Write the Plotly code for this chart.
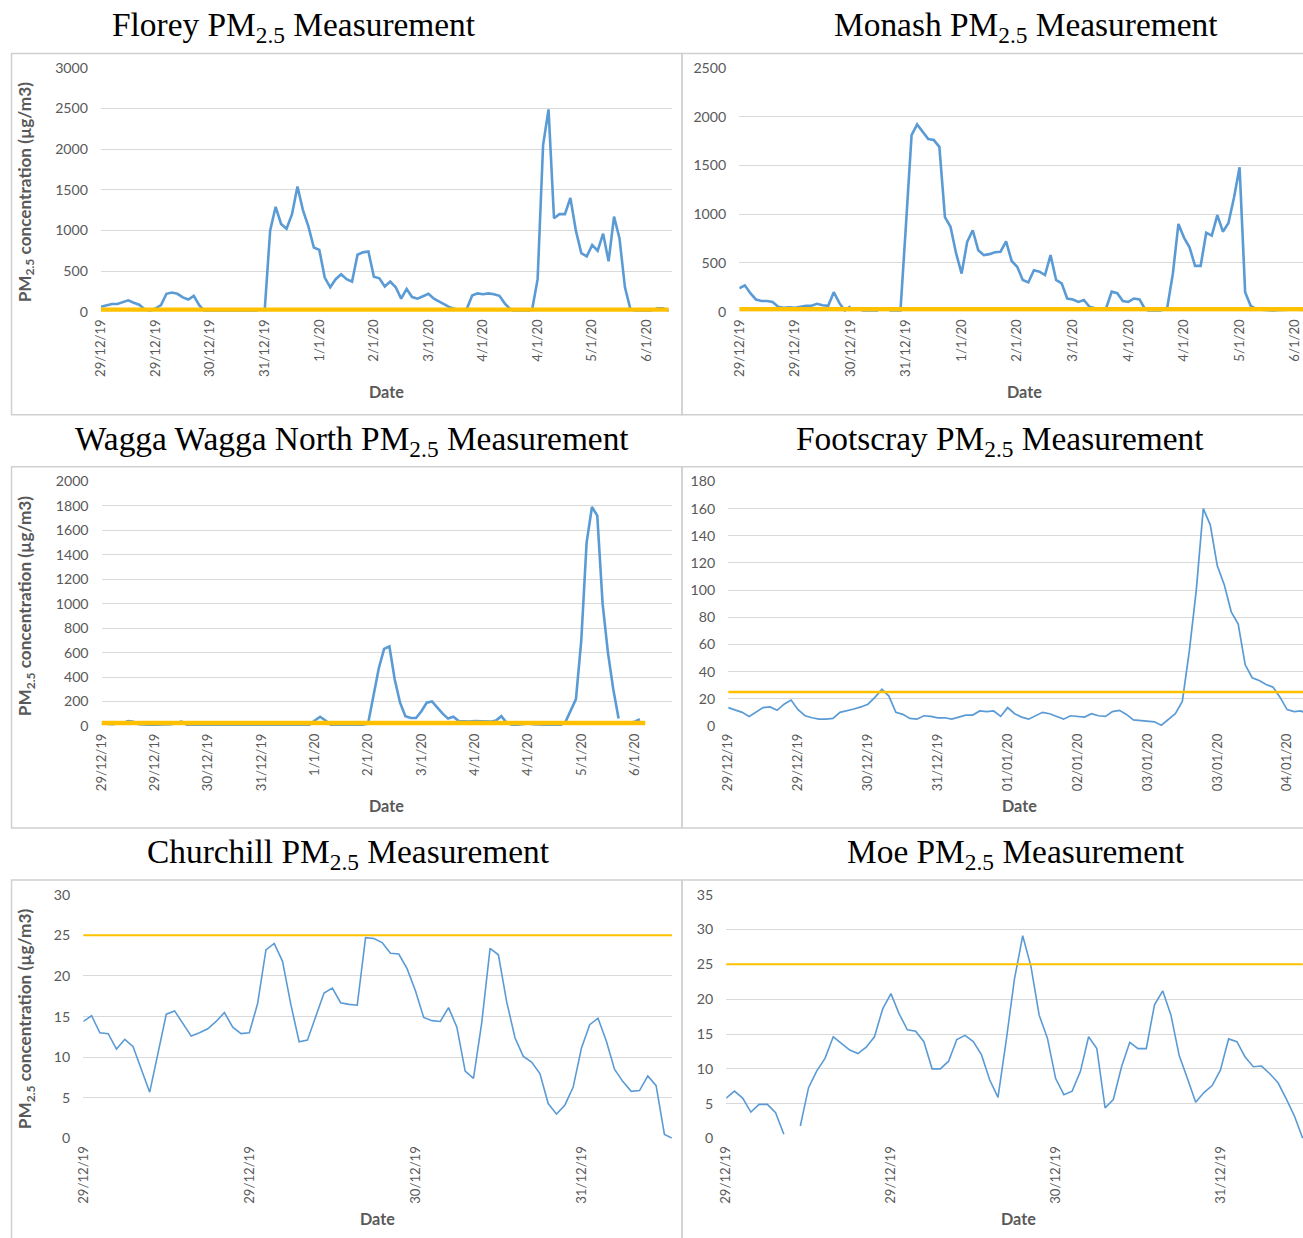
import plotly.graph_objects as go

W, H = 1303, 1238
THRESHOLD = 25  # PM2.5 guideline shown as orange line

# ---------------- data ----------------
florey_ticks = ["29/12/19", "29/12/19", "30/12/19", "31/12/19", "1/1/20", "2/1/20",
                "3/1/20", "4/1/20", "4/1/20", "5/1/20", "6/1/20"]
florey_pm = [60, 80, 95, 95, 120, 140, 110, 85, 30, 10,
             40, 80, 220, 235, 220, 175, 150, 195, 80, 5,
             0, 0, 5, 10, 5, 10, 5, 0, 0, 30,
             20, 1000, 1290, 1080, 1020, 1200, 1540, 1250, 1050, 790,
             760, 420, 300, 400, 460, 400, 370, 700, 730, 740,
             430, 410, 310, 370, 300, 160, 280, 180, 160, 190,
             220, 160, 120, 85, 50, 30, 30, 30, 200, 225,
             215, 225, 215, 195, 100, 30, 0, 0, 0, 30,
             400, 2050, 2490, 1150, 1200, 1200, 1400, 1000, 720, 680,
             820, 750, 960, 620, 1170, 900, 300, 30, 10, 0,
             5, 20, 40, 40, 10]

monash_ticks = florey_ticks
monash_pm = [240, 270, 190, 125, 110, 110, 100, 50, 40, 45,
             40, 50, 60, 60, 80, 65, 60, 200, 90, 10,
             55, None, 3, 3, 5, 3, None, 3, 5, 10,
             900, 1810, 1920, 1840, 1770, 1760, 1690, 970, 870, 600,
             390, 715, 835, 630, 580, 590, 610, 615, 720, 520,
             460, 325, 300, 425, 410, 375, 580, 325, 290, 135,
             125, 100, 120, 50, 35, 30, 35, 205, 190, 110,
             100, 135, 125, 25, 0, 0, 15, 45, 390, 900,
             760, 660, 470, 470, 810, 780, 990, 820, 910, 1170,
             1480, 200, 60, 25, 20, 15, 10, 15, 20, 20,
             20, 20, 15]

wagga_ticks = ["29/12/19", "29/12/19", "30/12/19", "31/12/19", "1/1/20", "2/1/20",
               "3/1/20", "4/1/20", "4/1/20", "5/1/20", "6/1/20"]
wagga_pm = [20, 15, 15, 20, 25, 40, 35, 15, 10, 10,
            10, 10, 10, 15, 25, 35, 10, 5, 5, 5,
            5, 5, 5, 5, 10, 10, 5, 5, 5, 10,
            10, 5, 5, 5, 5, 5, 5, 5, 5, 10,
            45, 75, 45, 10, 5, 5, 5, 5, 5, 10,
            20, 250, 470, 630, 650, 380, 190, 80, 65, 65,
            120, 190, 200, 150, 100, 60, 75, 40, 35, 35,
            40, 40, 40, 35, 45, 80, 25, 10, 10, 15,
            20, 15, 10, 10, 10, 5, 5, 30, 120, 220,
            700, 1500, 1790, 1720, 1000, 600, 300, 60, None, 25,
            35, 55]

footscray_ticks = ["29/12/19", "29/12/19", "30/12/19", "31/12/19", "01/01/20",
                   "02/01/20", "03/01/20", "03/01/20", "04/01/20"]
footscray_pm = [13.5, 12, 10, 7, 10, 13.5, 14, 11.5, 16, 19,
                12, 7.5, 6, 5, 5, 5.5, 10, 11, 12.5, 14,
                16, 21, 27, 22, 10, 8.5, 5.5, 5, 7.5, 7,
                6, 6, 5, 6.5, 8, 8, 11, 10.5, 11, 7,
                13.5, 9, 6.5, 5, 7.5, 10, 9, 7, 5, 7.5,
                7, 6.5, 9, 7.5, 7, 10.5, 11.5, 8.5, 4.5, 4,
                3.5, 3, 0.5, 5, 9, 18, 55, 100, 160, 148,
                118, 104, 84, 75, 45, 35.5, 33.5, 30.5, 28.5, 21,
                12, 10.5, 11, 8]

churchill_ticks = ["29/12/19", "29/12/19", "30/12/19", "31/12/19"]
churchill_pm = [14.4, 15.1, 13.0, 12.9, 11.0, 12.2, 11.3, 8.5, 5.7, 10.5,
                15.3, 15.7, 14.1, 12.6, 13.0, 13.5, 14.4, 15.5, 13.7, 12.9,
                13.0, 16.6, 23.2, 24.0, 21.8, 16.5, 11.9, 12.1, 15.0, 17.9,
                18.5, 16.7, 16.5, 16.4, 24.7, 24.6, 24.1, 22.8, 22.7, 20.9,
                18.2, 14.9, 14.5, 14.4, 16.1, 13.7, 8.3, 7.4, 14.3, 23.4,
                22.6, 16.8, 12.4, 10.1, 9.4, 8.0, 4.3, 3.0, 4.1, 6.3,
                11.1, 14.0, 14.8, 12.0, 8.5, 7.0, 5.8, 5.9, 7.7, 6.5,
                0.5, 0]

moe_ticks = ["29/12/19", "29/12/19", "30/12/19", "31/12/19"]
moe_pm = [5.8, 6.8, 5.8, 3.8, 4.9, 4.9, 3.7, 0.6, None, 1.8,
          7.3, 9.7, 11.5, 14.6, 13.7, 12.7, 12.2, 13.1, 14.6, 18.6,
          20.8, 17.9, 15.6, 15.4, 13.9, 10.0, 10.0, 11.1, 14.2, 14.8,
          13.9, 12.0, 8.4, 5.9, 14.1, 22.9, 29.1, 24.7, 17.7, 14.4,
          8.6, 6.3, 6.8, 9.6, 14.6, 12.9, 4.4, 5.6, 10.3, 13.8,
          12.9, 12.9, 19.2, 21.2, 17.7, 11.9, 8.6, 5.2, 6.6, 7.6,
          9.8, 14.3, 13.9, 11.7, 10.3, 10.4, 9.3, 8.0, 5.7, 3.2,
          0]

# ---------------- styling / geometry ----------------
BLUE = "#5B9BD5"
GOLD = "#FFC000"
GRID = "#D9D9D9"
TXT = "#595959"

# the captured picture shows the page slightly inset and shrunk; compensate
S_FIT, OFF = 0.988, 8.5


def fx(x):
    return (x - OFF) / S_FIT


def fy(y):
    return (y - OFF) / S_FIT


def fs(size):
    return size / S_FIT


panels = [
    dict(title="Florey", y=florey_pm, ticks=florey_ticks, step=10, ymax=3000, dtick=500,
         px=(100, 668), py=(67.5, 311.7), xmax=104.6, thr_len=len(florey_pm),
         lw=2.6, tw=4.5, box=(11, 678, 53, 415), tcx=292, tcy=27, ytitle=True),
    dict(title="Monash", y=monash_pm, ticks=monash_ticks, step=10, ymax=2500, dtick=500,
         px=(735, 1303), py=(67.5, 311.7), xmax=102.7, thr_len=len(monash_pm),
         lw=2.6, tw=4.5, box=(678, 1340, 53, 415), tcx=1020, tcy=27, ytitle=False),
    dict(title="Wagga Wagga North", y=wagga_pm, ticks=wagga_ticks, step=10, ymax=2000, dtick=200,
         px=(100.6, 668), py=(481.7, 726.7), xmax=107, thr_len=len(wagga_pm) + 1,
         lw=2.6, tw=4.5, box=(11, 678, 467, 829), tcx=350, tcy=441, ytitle=True),
    dict(title="Footscray", y=footscray_pm, ticks=footscray_ticks, step=10, ymax=180, dtick=20,
         px=(724, 1303), py=(481.7, 726.7), xmax=83.3, thr_len=len(footscray_pm),
         lw=1.7, tw=2.6, box=(678, 1340, 467, 829), tcx=994, tcy=441, ytitle=False),
    dict(title="Churchill", y=churchill_pm, ticks=churchill_ticks, step=20, ymax=30, dtick=5,
         px=(82.4, 668), py=(895.7, 1140), xmax=70.9, thr_len=len(churchill_pm),
         lw=1.6, tw=2.0, box=(11, 678, 881, 1290), tcx=346, tcy=855, ytitle=True),
    dict(title="Moe", y=moe_pm, ticks=moe_ticks, step=20, ymax=35, dtick=5,
         px=(722, 1303), py=(895.7, 1140), xmax=70.9, thr_len=len(moe_pm),
         lw=1.6, tw=2.0, box=(678, 1340, 881, 1290), tcx=1010, tcy=855, ytitle=False),
]

fig = go.Figure()
layout = dict(width=W, height=H, margin=dict(l=0, r=0, t=0, b=0),
              paper_bgcolor="white", plot_bgcolor="white", showlegend=False)
annotations = []
shapes = []

for i, p in enumerate(panels, start=1):
    xa, ya = f"x{i}", f"y{i}"
    xs = list(range(len(p["y"])))
    fig.add_trace(go.Scatter(x=xs, y=p["y"], mode="lines", xaxis=xa, yaxis=ya,
                             line=dict(color=BLUE, width=p["lw"]), connectgaps=False,
                             hoverinfo="skip"))
    fig.add_trace(go.Scatter(x=list(range(p["thr_len"])), y=[THRESHOLD] * p["thr_len"],
                             mode="lines", xaxis=xa, yaxis=ya,
                             line=dict(color=GOLD, width=p["tw"]), hoverinfo="skip"))
    # x domain (clamped to the figure, axis range trimmed proportionally)
    x0, x1 = fx(p["px"][0]), fx(p["px"][1])
    xmax = p["xmax"]
    if x1 > W:
        xmax = xmax * (W - x0) / (x1 - x0)
        x1 = W
    y_top, y_bot = fy(p["py"][0]), fy(p["py"][1])
    tickvals = [k * p["step"] for k in range(len(p["ticks"]))]
    layout[f"xaxis{i}"] = dict(
        domain=[x0 / W, x1 / W], anchor=ya, range=[0, xmax],
        tickvals=tickvals, ticktext=p["ticks"], tickangle=-90,
        tickfont=dict(family="Lato", size=fs(13), color=TXT),
        showgrid=False, zeroline=False, showline=False, ticks="",
        ticklabelstandoff=4)
    layout[f"yaxis{i}"] = dict(
        domain=[1 - y_bot / H, 1 - y_top / H], anchor=xa,
        range=[0, p["ymax"]], dtick=p["dtick"], tick0=0,
        tickfont=dict(family="Lato", size=fs(14), color=TXT),
        showgrid=True, gridcolor=GRID, gridwidth=1.3, zeroline=False, showline=False,
        ticks="", ticklabelstandoff=12)
    bx0, bx1, by0, by1 = p["box"]
    shapes.append(dict(type="rect", xref="paper", yref="paper",
                       x0=max(fx(bx0), 1) / W, x1=fx(bx1) / W,
                       y0=1 - fy(by1) / H, y1=1 - fy(by0) / H,
                       line=dict(color="#D0D0D0", width=1.5), fillcolor="rgba(0,0,0,0)",
                       layer="below"))
    annotations.append(dict(text=f"{p['title']} PM<sub>2.5</sub> Measurement",
                            xref="paper", yref="paper",
                            x=fx(p["tcx"]) / W, y=1 - fy(p["tcy"]) / H,
                            showarrow=False, xanchor="center", yanchor="middle",
                            font=dict(family="Liberation Serif", size=fs(33), color="black")))
    xc = (p["px"][0] + p["px"][1]) / 2
    annotations.append(dict(text="<b>Date</b>", xref="paper", yref="paper",
                            x=fx(xc) / W, y=1 - fy(p["py"][1] + 80) / H,
                            showarrow=False, xanchor="center", yanchor="middle",
                            font=dict(family="Lato", size=fs(16), color=TXT)))
    if p["ytitle"]:
        yc = (p["py"][0] + p["py"][1]) / 2 + 2
        annotations.append(dict(text="<b>PM<sub>2.5</sub> concentration (µg/m3)</b>",
                                xref="paper", yref="paper", x=fx(25) / W, y=1 - fy(yc) / H,
                                textangle=-90, showarrow=False, xanchor="center",
                                yanchor="middle",
                                font=dict(family="Lato", size=fs(17), color=TXT,
                                          weight="bold")))

layout["annotations"] = annotations
layout["shapes"] = shapes
fig.update_layout(**layout)
fig.write_html("out.html",
               config={"displayModeBar": False},
               post_script="document.body.style.margin='0';"
                           "document.body.style.overflow='hidden';")
